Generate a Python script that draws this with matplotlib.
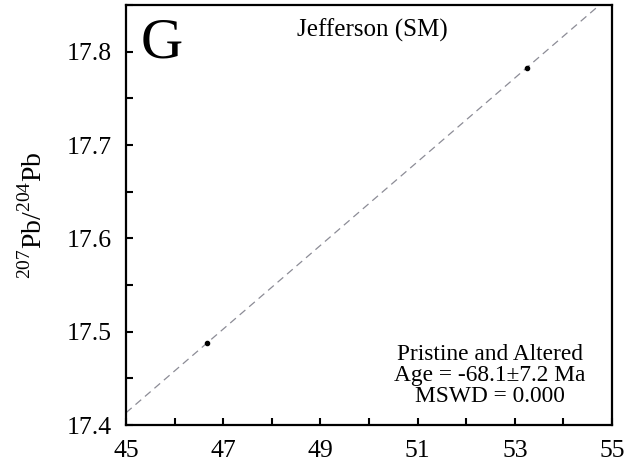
import matplotlib.pyplot as plt
import numpy as np

plt.rcParams["font.family"] = ["Liberation Serif", "DejaVu Serif"]
plt.rcParams["mathtext.fontset"] = "custom"
plt.rcParams["mathtext.rm"] = "Liberation Serif"

# data
pb206_204 = [46.67, 53.25]
pb207_204 = [17.488, 17.783]
x_ticks = [45, 47, 49, 51, 53, 55]
y_ticks = [17.4, 17.5, 17.6, 17.7, 17.8]

panel = "G"
title = "Jefferson (SM)"
stats = "Pristine and Altered\nAge = -68.1\u00b17.2 Ma\nMSWD = 0.000"

fig = plt.figure(figsize=(6.26, 4.67), dpi=100)
ax = fig.add_axes([0.2013, 0.0899, 0.7764, 0.8994])
ax.set_xlim(45, 55)
ax.set_ylim(17.4, 17.85)

# isochron through the points
slope, icpt = np.polyfit(pb206_204, pb207_204, 1)
xl = np.array([45, 55])
ax.plot(xl, slope * xl + icpt, linestyle=(0, (6, 4)), color="#8c8c96", linewidth=0.9)
ax.plot(pb206_204, pb207_204, "o", color="black", markersize=3)

ax.set_xticks(x_ticks)
ax.set_xticks(np.arange(45, 55.1, 1), minor=True)
ax.set_yticks(y_ticks)
ax.set_yticklabels([f"{v:.1f}" for v in y_ticks])
ax.set_yticks(np.arange(17.4, 17.851, 0.05), minor=True)
ax.tick_params(which="both", direction="in", length=5, width=1.5, labelsize=18.5)
ax.tick_params(axis="x", pad=11)
ax.tick_params(axis="y", pad=10)
for sp in ax.spines.values():
    sp.set_linewidth(1.6)

ax.set_ylabel("$^{207}$Pb/$^{204}$Pb", fontsize=20, labelpad=14)

ax.text(0.03, 0.874, panel, transform=ax.transAxes, fontsize=42, va="baseline", ha="left")
ax.text(0.506, 0.94, title, transform=ax.transAxes, fontsize=18, va="center", ha="center")
ax.text(0.749, 0.119, stats, transform=ax.transAxes, fontsize=16.8, va="center",
        ha="center", multialignment="center", linespacing=1.0)

fig.savefig("out.png", dpi=100, facecolor="white")
